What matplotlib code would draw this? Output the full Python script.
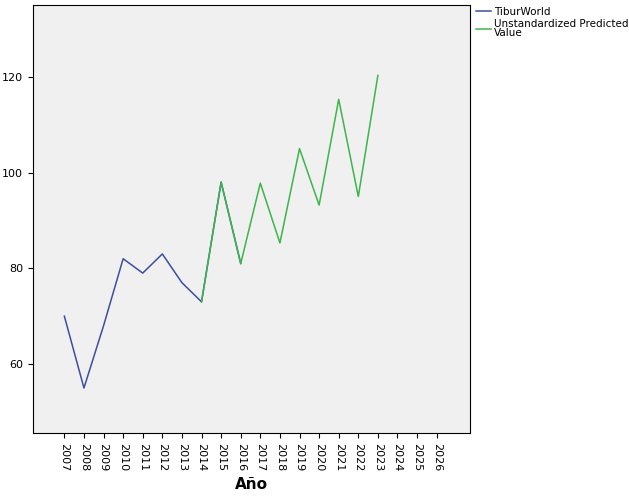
import numpy as np
import matplotlib.pyplot as plt

years = list(range(2007, 2027))
tibur = [70, 55, 68, 82, 79, 83, 77, 73, 98, 81]
pred_years = list(range(2014, 2024))
pred = [73, 98, 81, 97.8, 85.3, 105, 93.2, 115.3, 95, 120.3]

fig = plt.figure(figsize=(6.29, 5.04), dpi=100)
ax = fig.add_axes([33/629, 71/504, 437/629, 428/504])
ax.set_facecolor('#f0f0f0')

xi = {y: i for i, y in enumerate(years)}
ax.plot([xi[y] for y in years[:len(tibur)]], tibur, color='#3d4ea0', lw=1.1, label='TiburWorld')
ax.plot([xi[y] for y in pred_years], pred, color='#3cb54a', lw=1.1, label='Unstandardized Predicted\nValue')

ax.set_xlim(-1.6, 20.7)
ax.set_ylim(45.6, 135)
ax.set_xticks(range(len(years)))
ax.set_xticklabels([str(y) for y in years], rotation=270, fontsize=8)
ax.set_yticks([60, 80, 100, 120])
ax.tick_params(axis='y', labelsize=8)
ax.set_xlabel('Año', fontsize=11, fontweight='bold')
for s in ax.spines.values():
    s.set_color('black')
    s.set_linewidth(0.8)

leg = ax.legend(loc='upper left', bbox_to_anchor=(1.0, 1.01), frameon=False, fontsize=7.5,
                handlelength=1.4, handletextpad=0.3, labelspacing=0.2, borderaxespad=0.2)
for t in leg.get_texts():
    t.set_linespacing(0.9)

fig.savefig('out.png', dpi=100)
